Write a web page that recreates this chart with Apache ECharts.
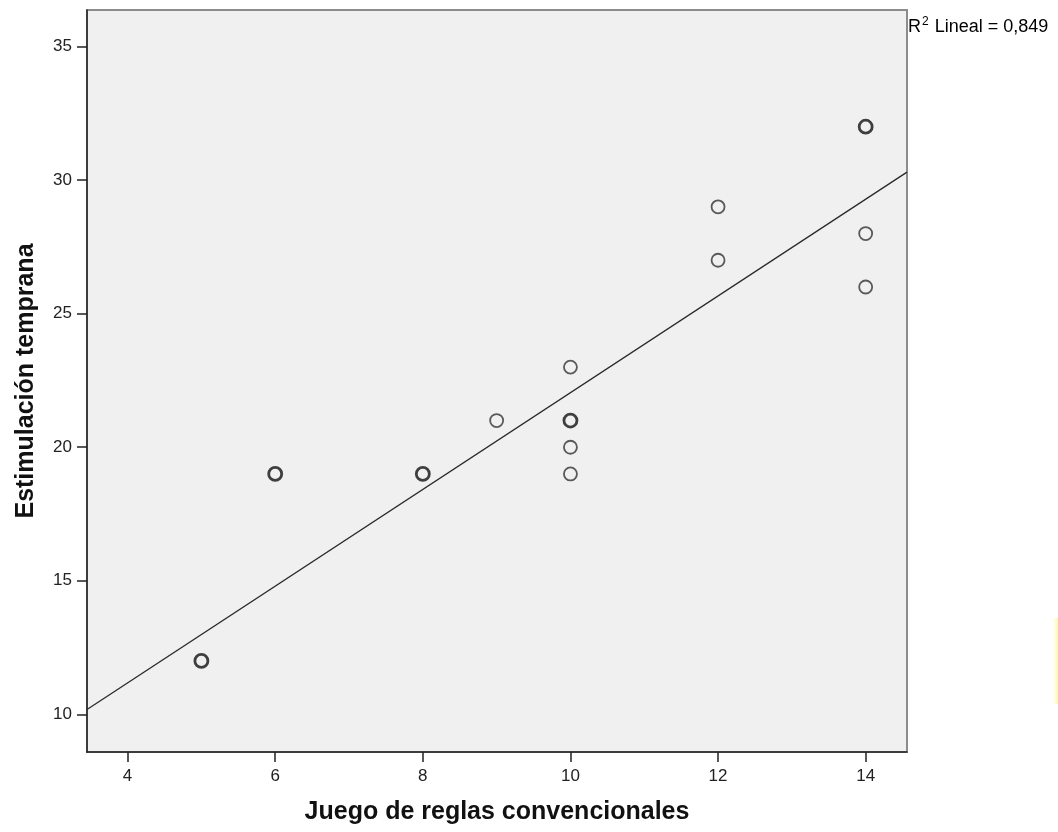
<!DOCTYPE html>
<html>
<head>
<meta charset="utf-8">
<script src="https://cdn.jsdelivr.net/npm/echarts@6/dist/echarts.min.js"></script>
<style>
  html, body { margin: 0; padding: 0; background: #ffffff; }
  #chart { width: 1058px; height: 832px; }
</style>
</head>
<body>
<div id="chart"></div>
<script>
// Observations: Juego de reglas convencionales (x) vs Estimulación temprana (y).
// Repeated pairs are listed once per case.
var juegoReglas = [5, 5, 6, 6, 8, 8, 9, 10, 10, 10, 10, 10, 12, 12, 14, 14, 14, 14];
var estimulacion = [12, 12, 19, 19, 19, 19, 21, 23, 21, 21, 20, 19, 29, 27, 32, 32, 28, 26];

// Fitted linear trend, evaluated at both ends of the x range.
var fitX = [3.45, 14.56];
var fitY = [10.18, 30.30];

var xTicks = [4, 6, 8, 10, 12, 14];
var yTicks = [10, 15, 20, 25, 30, 35];
var r2Text = '0,849';

var FONT = "'Liberation Sans', Arial, sans-serif";

// Collapse repeated cases into one symbol, drawn heavier when cases coincide.
var counts = {};
juegoReglas.forEach(function (x, i) {
  var key = x + '|' + estimulacion[i];
  counts[key] = (counts[key] || 0) + 1;
});
var points = Object.keys(counts).map(function (key) {
  var parts = key.split('|');
  var n = counts[key];
  return {
    value: [Number(parts[0]), Number(parts[1])],
    itemStyle: { borderWidth: n > 1 ? 2.8 : 1.8, borderColor: n > 1 ? '#111' : '#333' }
  };
});

var fitData = fitX.map(function (x, i) { return [x, fitY[i]]; });

var chart = echarts.init(document.getElementById('chart'), null, { renderer: 'canvas' });
chart.setOption({
  animation: false,
  backgroundColor: '#ffffff',
  grid: {
    left: 87, right: 151, top: 10, bottom: 80,
    outerBoundsMode: 'none',
    containLabel: false,
    show: true,
    backgroundColor: '#f0f0f0',
    borderColor: '#8c8c8c',
    borderWidth: 2
  },
  xAxis: {
    type: 'value',
    min: 3.45,
    max: 14.56,
    name: 'Juego de reglas convencionales',
    nameLocation: 'middle',
    nameGap: 48,
    nameTextStyle: { fontFamily: FONT, fontSize: 25, fontWeight: 'bold', color: '#111' },
    axisLine: { show: true, onZero: false, lineStyle: { color: '#222', width: 1.5 } },
    axisTick: { show: true, length: 10, lineStyle: { color: '#222', width: 1.5 }, customValues: xTicks },
    axisLabel: { fontFamily: FONT, fontSize: 17, color: '#222', margin: 16, customValues: xTicks },
    splitLine: { show: false }
  },
  yAxis: {
    type: 'value',
    min: 8.59,
    max: 36.37,
    name: 'Estimulación temprana',
    nameLocation: 'middle',
    nameGap: 48,
    nameTextStyle: { fontFamily: FONT, fontSize: 25, fontWeight: 'bold', color: '#111' },
    axisLine: { show: true, onZero: false, lineStyle: { color: '#222', width: 1.5 } },
    axisTick: { show: true, length: 10, lineStyle: { color: '#222', width: 1.5 }, customValues: yTicks },
    axisLabel: { fontFamily: FONT, fontSize: 17, color: '#222', margin: 15, padding: [5, 0, 0, 0], customValues: yTicks },
    splitLine: { show: false }
  },
  series: [
    {
      type: 'line',
      data: fitData,
      showSymbol: false,
      symbol: 'none',
      clip: true,
      lineStyle: { color: '#2a2a2a', width: 1.3 },
      z: 2
    },
    {
      type: 'scatter',
      data: points,
      symbol: 'circle',
      symbolSize: 13,
      itemStyle: { color: 'rgba(0,0,0,0)' },
      z: 3
    }
  ],
  graphic: [
    {
      type: 'text',
      left: 908,
      top: 16,
      style: {
        text: '{a|R}{b|2}{a| Lineal = ' + r2Text + '}',
        rich: {
          a: { fontFamily: FONT, fontSize: 18, color: '#111', lineHeight: 20, verticalAlign: 'bottom' },
          b: { fontFamily: FONT, fontSize: 12, color: '#111', lineHeight: 20, verticalAlign: 'top', padding: [0, 1, 8, 1] }
        }
      }
    },
    {
      type: 'rect',
      shape: { x: 1052, y: 618, width: 6, height: 86 },
      style: {
        fill: {
          type: 'linear', x: 0, y: 0, x2: 1, y2: 0,
          colorStops: [
            { offset: 0, color: 'rgba(255,255,200,0)' },
            { offset: 1, color: 'rgba(250,245,170,0.9)' }
          ]
        }
      },
      silent: true
    }
  ]
});
</script>
</body>
</html>
